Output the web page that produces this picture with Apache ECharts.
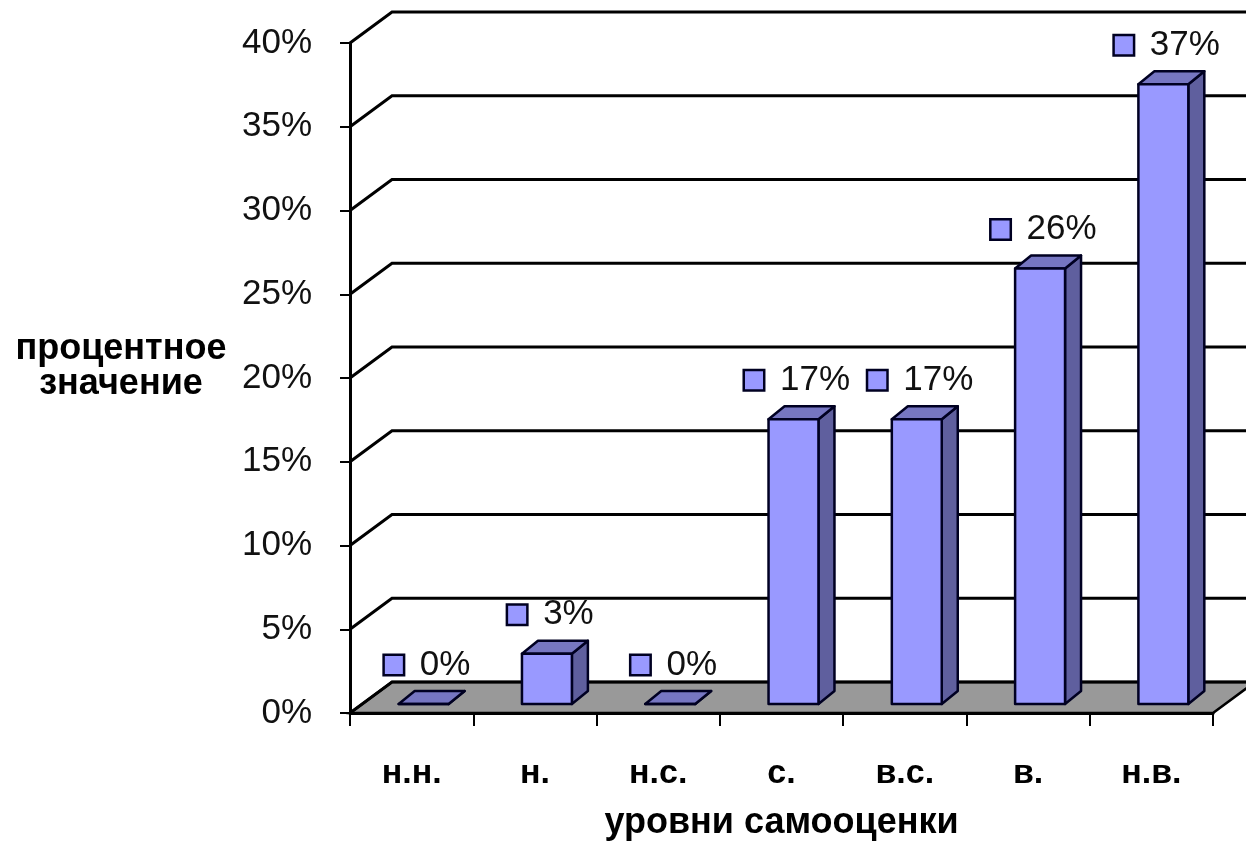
<!DOCTYPE html>
<html>
<head>
<meta charset="utf-8">
<script src="https://cdn.jsdelivr.net/npm/echarts@6/dist/echarts.min.js"></script>
<style>
  html, body { margin: 0; padding: 0; background: #fff; }
  #chart { width: 1246px; height: 848px; }
</style>
</head>
<body>
<div id="chart"></div>
<script>
// Chart data
var categories = ['н.н.', 'н.', 'н.с.', 'с.', 'в.с.', 'в.', 'н.в.'];
var values = [0, 3, 0, 17, 17, 26, 37];
var yTicks = [0, 5, 10, 15, 20, 25, 30, 35, 40];
var yName = 'процентное\nзначение';
var xName = 'уровни самооценки';

// 3D look (pixels)
var WALL_DX = 42, WALL_DY = -31;    // back wall offset from front plane
var BAR_DX = 12, BAR_DY = -9;       // bar front face offset
var DEPTH_DX = 16, DEPTH_DY = -13;  // bar depth
var FONT = 'Liberation Sans, Arial, sans-serif';
var OUTLINE = '#000022';

function edges(api, v) {
    var band = api.size([1, 0])[0];
    var p = api.coord([0, v]);
    var q = api.coord([categories.length - 1, v]);
    return {left: p[0] - band / 2, right: q[0] + band / 2, y: p[1], band: band};
}

function renderFloor(params, api) {
    var e = edges(api, 0);
    return {
        type: 'polygon',
        shape: {points: [[e.left, e.y], [e.right, e.y], [e.right + WALL_DX, e.y + WALL_DY], [e.left + WALL_DX, e.y + WALL_DY]]},
        style: {fill: '#999999', stroke: '#000', lineWidth: 2.5}
    };
}

function renderWall(params, api) {
    var e = edges(api, api.value(1));
    return {
        type: 'polyline',
        shape: {points: [[e.left, e.y], [e.left + WALL_DX, e.y + WALL_DY], [e.right + WALL_DX + 20, e.y + WALL_DY]]},
        style: {stroke: '#000', lineWidth: 3, fill: null}
    };
}

function renderBar(params, api) {
    var i = api.value(0), v = api.value(1);
    var base = api.coord([i, 0]);
    var top = api.coord([i, v]);
    var band = api.size([1, 0])[0];
    var w = band * 0.405;
    var x0 = base[0] - w / 2 + BAR_DX, x1 = x0 + w;
    var yb = base[1] + BAR_DY, yt = top[1] + BAR_DY;
    var lineStyle = {stroke: OUTLINE, lineWidth: 2.5, lineJoin: 'round'};
    return {
        type: 'group',
        children: [
            {
                type: 'polygon',
                shape: {points: [[x1, yb], [x1 + DEPTH_DX, yb + DEPTH_DY], [x1 + DEPTH_DX, yt + DEPTH_DY], [x1, yt]]},
                style: Object.assign({fill: '#5F5F9E'}, lineStyle)
            },
            {
                type: 'polygon',
                shape: {points: [[x0, yt], [x0 + DEPTH_DX, yt + DEPTH_DY], [x1 + DEPTH_DX, yt + DEPTH_DY], [x1, yt]]},
                style: Object.assign({fill: '#7676C2'}, lineStyle)
            },
            {
                type: 'polygon',
                shape: {points: [[x0, yb], [x1, yb], [x1, yt], [x0, yt]]},
                style: Object.assign({fill: '#9999FF'}, lineStyle)
            },
            {
                type: 'text',
                x: (x0 + x1) / 2 + 4,
                y: yt - 39,
                style: {
                    text: '{sq|}{t|' + v + '%}',
                    align: 'center',
                    verticalAlign: 'middle',
                    rich: {
                        sq: {width: 18, height: 18, backgroundColor: '#9999FF', borderColor: OUTLINE, borderWidth: 2.5},
                        t: {fontSize: 35, fontFamily: FONT, fill: '#111', padding: [0, 0, 0, 17]}
                    }
                }
            }
        ]
    };
}

var chart = echarts.init(document.getElementById('chart'));

var option = {
    animation: false,
    backgroundColor: '#fff',
    grid: {left: 350, top: 43, width: 863, height: 670, outerBoundsMode: 'none'},
    // y axis title sits a little above the axis middle, so it is placed by hand
    graphic: [
        {
            type: 'text',
            x: 121,
            y: 367,
            style: {
                text: yName,
                align: 'center',
                verticalAlign: 'middle',
                fontSize: 36,
                fontWeight: 'bold',
                fontFamily: FONT,
                lineHeight: 35,
                fill: '#000'
            }
        }
    ],
    xAxis: {
        type: 'category',
        data: categories,
        axisLine: {lineStyle: {color: '#000', width: 3}},
        axisTick: {show: true, length: 13, lineStyle: {color: '#000', width: 2}},
        axisLabel: {fontSize: 34, fontWeight: 'bold', fontFamily: FONT, color: '#000', margin: 44},
        splitLine: {show: false},
        name: xName,
        nameLocation: 'middle',
        nameGap: 110,
        nameTextStyle: {fontSize: 36, fontWeight: 'bold', fontFamily: FONT, color: '#000', align: 'center', verticalAlign: 'middle'}
    },
    yAxis: {
        type: 'value',
        min: 0,
        max: 40,
        interval: 5,
        axisLine: {show: true, lineStyle: {color: '#000', width: 3}},
        axisTick: {show: true, length: 10, lineStyle: {color: '#000', width: 2}},
        axisLabel: {formatter: '{value}%', fontSize: 35, fontFamily: FONT, color: '#111', margin: 38},
        splitLine: {show: false}
    },
    series: [
        {
            name: 'floor',
            type: 'custom',
            z: 1,
            renderItem: renderFloor,
            data: [[0, 0]],
            silent: true
        },
        {
            name: 'wall',
            type: 'custom',
            z: 2,
            renderItem: renderWall,
            data: yTicks.map(function (v) { return [0, v]; }),
            silent: true
        },
        {
            name: 'уровни',
            type: 'custom',
            z: 3,
            renderItem: renderBar,
            data: values.map(function (v, i) { return [i, v]; })
        }
    ]
};

option && chart.setOption(option);
</script>
</body>
</html>
